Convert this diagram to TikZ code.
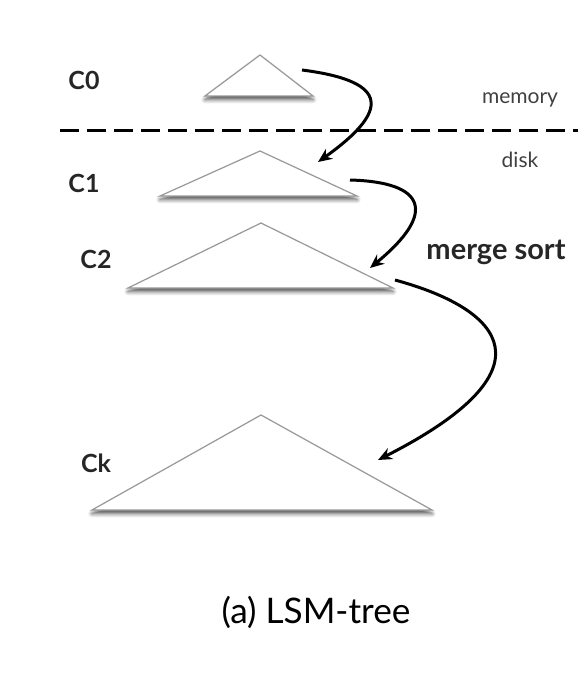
\documentclass[tikz,border=0pt]{standalone}
\usepackage{fontspec}
\setmainfont{Lato}
\usepackage{tikz}
\usetikzlibrary{arrows.meta}
\usetikzlibrary{shadows.blur}

\tikzset{
  tree/.style={draw=gray!80, line width=0.6pt, fill=white, line join=miter,
    blur shadow={shadow xshift=0pt, shadow yshift=-1.8pt, shadow blur steps=6, shadow opacity=70}},
  level/.style={font=\fontsize{12.5}{14}\selectfont\bfseries, text=black!85},
  flow/.style={line width=1.5pt, -{Stealth[length=7pt, width=6pt]}},
  small/.style={font=\fontsize{10.5}{12}\selectfont, text=black!75}
}

\begin{document}
\begin{tikzpicture}[x=0.5pt, y=-0.5pt]
		\useasboundingbox (0,0) rectangle (582,674);
		% levels
		\node[level] (c0) at (84,80) {C0};
		\node[level] (c1) at (84,183) {C1};
		\node[level] (c2) at (96,259) {C2};
		\node[level] (ck) at (96,463) {Ck};
		% trees
		\draw[tree] (260,55) -- (313,96) -- (205,96) -- cycle;
		\draw[tree] (260,151) -- (357,196) -- (160,196) -- cycle;
		\draw[tree] (261,223) -- (393,288) -- (128,288) -- cycle;
		\draw[tree] (261,415) -- (432,510) -- (92,510) -- cycle;
		% memory / disk
		\draw[line width=1.5pt, dash pattern=on 9.5pt off 4pt] (60,130) -- (578,130);
		\node[small] (mem) at (520,100) {memory};
		\node[small] (dsk) at (520,160) {disk};
		% merges
		\coordinate (c0out) at (302,70);
		\coordinate (c1in) at (318,162);
		\coordinate (c1out) at (350,180);
		\coordinate (c2in) at (370,268);
		\coordinate (c2out) at (395,280);
		\coordinate (ckin) at (378,460);
		\draw[flow] (c0out) .. controls (380,80) and (398,105) .. (c1in);
		\draw[flow] (c1out) .. controls (425,182) and (438,212) .. (c2in);
		\draw[flow] (c2out) .. controls (505,310) and (555,370) .. (ckin);
		\node[font=\fontsize{14.5}{16}\selectfont\bfseries, text=black!85] (ms) at (496,252) {merge sort};
		\node[font=\fontsize{17.6}{20}\selectfont] (cap) at (316,612) {(a) LSM-tree};
	\end{tikzpicture}
\end{document}
